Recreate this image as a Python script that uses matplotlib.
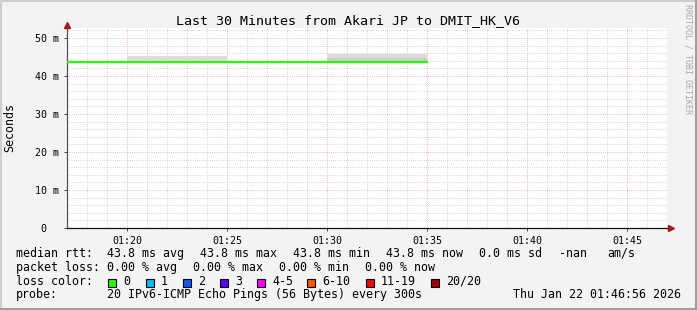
import matplotlib
matplotlib.use('Agg')
import matplotlib.pyplot as plt
from matplotlib.lines import Line2D
from matplotlib.patches import Rectangle
import matplotlib.transforms as mtransforms

# -- data (Smokeping, last 30 minutes)
slot_start = ['01:15', '01:20', '01:25', '01:30']   # 5 minute slots
slot_len = 5
median_ms = [43.8, 43.8, 43.8, 43.8]
smoke_dark_top = [43.8, 43.8, 43.8, 44.7]
smoke_light_top = [43.8, 45.3, 43.8, 45.7]
x_ticks = ['01:20', '01:25', '01:30', '01:35', '01:40', '01:45']
y_ticks = [0, 10, 20, 30, 40, 50]
t_start, t_end = '01:17', '01:47'

loss_labels = ['0', '1', '2', '3', '4-5', '6-10', '11-19', '20/20']
loss_colors = ['#26ff00', '#00b8ff', '#0059ff', '#5e00ff', '#ff00ff', '#ff5500', '#ff0000', '#a00000']

stats_row1 = ['median rtt:', '43.8 ms avg', '43.8 ms max', '43.8 ms min', '43.8 ms now',
              '0.0 ms sd', '-nan', 'am/s']
stats_row2 = ['packet loss:', '0.00 % avg', '0.00 % max', '0.00 % min', '0.00 % now']
probe_text = '20 IPv6-ICMP Echo Pings (56 Bytes) every 300s'
stamp = 'Thu Jan 22 01:46:56 2026'
title = 'Last 30 Minutes from Akari JP to DMIT_HK_V6'


def to_min(s):
    h, m = s.split(':')
    return int(h) * 60 + int(m)


W, H = 697, 310
MONO = 'DejaVu Sans Mono'
plt.rcParams['font.family'] = MONO

fig = plt.figure(figsize=(W / 100, H / 100), dpi=100, facecolor='#f3f3f3')


def fx(x):
    return x / W


def fy(y):
    return 1 - y / H


# plot area 67..667 x 28..228 px
ax = fig.add_axes([fx(67), fy(228), 600 / W, 200 / H])
ax.set_facecolor('white')

xs = [to_min(s) for s in slot_start]
xs = xs + [xs[-1] + slot_len]
ax.fill_between(xs, median_ms + median_ms[-1:], smoke_dark_top + smoke_dark_top[-1:],
                step='post', color='#cccccc', lw=0, zorder=2)
ax.fill_between(xs, smoke_dark_top + smoke_dark_top[-1:], smoke_light_top + smoke_light_top[-1:],
                step='post', color='#dcdcdc', lw=0, zorder=2)
ax.step(xs, median_ms + median_ms[-1:], where='post', color='#26ff00', lw=1.6, zorder=3)

ax.set_xlim(to_min(t_start), to_min(t_end))
ax.set_ylim(0, 200 / 3.8)

xt = [to_min(s) for s in x_ticks]
ax.set_xticks(xt)
ax.set_xticklabels(x_ticks)
ax.set_xticks(range(to_min(t_start), to_min(t_end) + 1), minor=True)
ax.set_yticks(y_ticks)
ax.set_yticklabels(['0  '] + ['%d m' % v for v in y_ticks[1:]])
ax.set_yticks(range(0, 53, 2), minor=True)

dot = (0, (0.72, 1.44))
ax.grid(True, which='minor', color='#c8c8c8', lw=0.72, ls=dot, zorder=1)
ax.grid(True, which='major', color='#eca0a0', lw=0.72, ls=dot, zorder=1)
ax.set_axisbelow(True)

ax.tick_params(which='major', length=2, width=0.7, color='#404040', labelsize=7.2, pad=4)
ax.tick_params(which='minor', length=0)
for s in ['top', 'right']:
    ax.spines[s].set_visible(False)
ax.spines['left'].set_color('#505050')
ax.spines['bottom'].set_color('#101010')
ax.spines['left'].set_linewidth(0.9)
ax.spines['bottom'].set_linewidth(0.9)

# axis arrows
up = mtransforms.offset_copy(ax.transAxes, fig=fig, x=0, y=3, units='dots')
ax.plot([0], [1], marker='^', ms=5, color='#a01818', transform=up, clip_on=False, zorder=5)
ax.add_line(Line2D([1, 1.004], [0, 0], transform=ax.transAxes, color='#101010', lw=0.9, clip_on=False))
rt = mtransforms.offset_copy(ax.transAxes, fig=fig, x=4, y=0, units='dots')
ax.plot([1], [0], marker='>', ms=5, color='#a01818', transform=rt, clip_on=False, zorder=5)

# texts
fig.text(fx(348.5), fy(24), title, ha='center', va='baseline', fontsize=9.6)
fig.text(fx(10), fy(128), 'Seconds', rotation=90, ha='center', va='center', fontsize=8.4)
fig.text(fx(688), fy(4), 'RRDTOOL / TOBI OETIKER', rotation=270, ha='center', va='top',
         fontsize=6, color='#a8a8a8')

fs = 8.37
row1_x = [16, 107, 200, 293, 386, 479, 559, 607]
for s, x in zip(stats_row1, row1_x):
    fig.text(fx(x), fy(257), s, va='baseline', fontsize=fs)
row2_x = [16, 107, 193, 279, 365]
for s, x in zip(stats_row2, row2_x):
    fig.text(fx(x), fy(271), s, va='baseline', fontsize=fs)

fig.text(fx(16), fy(285), 'loss color:', va='baseline', fontsize=fs)
box_x = [108, 146, 183, 220, 257, 307, 366, 431]
for lab, col, x in zip(loss_labels, loss_colors, box_x):
    fig.add_artist(Rectangle((fx(x), fy(287)), 8 / W, 8 / H, transform=fig.transFigure,
                             facecolor=col, edgecolor='black', lw=0.8))
    fig.text(fx(x + 15), fy(285), lab, va='baseline', fontsize=fs)

fig.text(fx(16), fy(298), 'probe:', va='baseline', fontsize=fs)
fig.text(fx(107), fy(298), probe_text, va='baseline', fontsize=fs)
fig.text(fx(681), fy(298), stamp, ha='right', va='baseline', fontsize=fs)

# frame
fig.add_artist(Line2D([0, 1], [fy(0.8), fy(0.8)], transform=fig.transFigure, color='#cfcfcf', lw=1.5))
fig.add_artist(Line2D([fx(0.8), fx(0.8)], [0, 1], transform=fig.transFigure, color='#cfcfcf', lw=1.5))
fig.add_artist(Line2D([0, 1], [fy(309.2), fy(309.2)], transform=fig.transFigure, color='#9e9e9e', lw=1.5))
fig.add_artist(Line2D([fx(696.2), fx(696.2)], [0, 1], transform=fig.transFigure, color='#9e9e9e', lw=1.5))

fig.savefig('out.png', dpi=100, facecolor=fig.get_facecolor())
